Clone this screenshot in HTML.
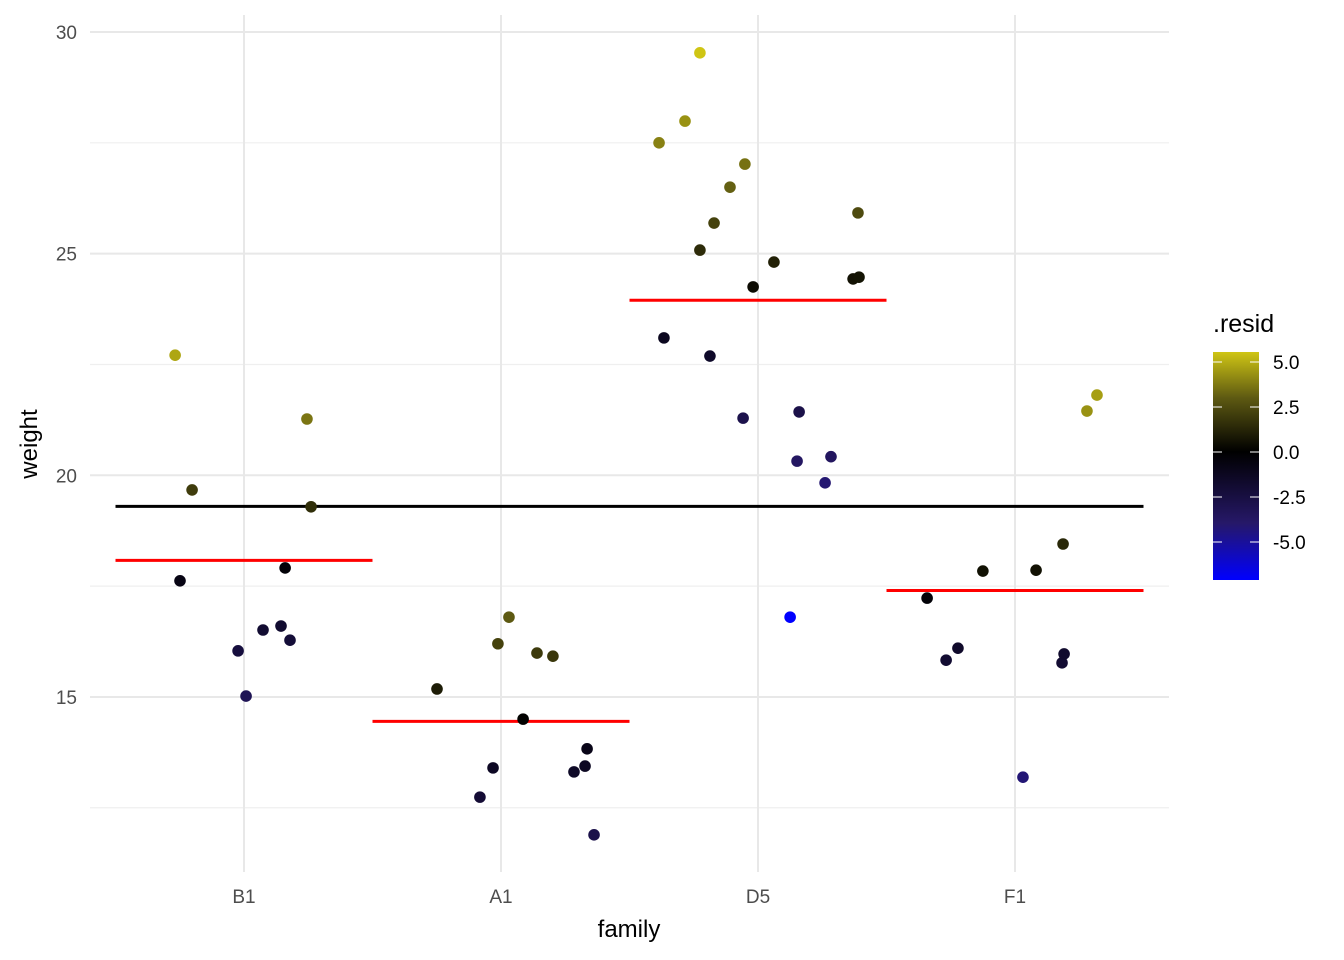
<!DOCTYPE html>
<html><head><meta charset="utf-8"><style>
body{margin:0;background:#fff;}
svg{display:block;font-family:"Liberation Sans",sans-serif;}
</style></head><body>
<svg id="chart" width="1344" height="960">
<defs><linearGradient id="lg" x1="0" y1="1" x2="0" y2="0">
<stop offset="0" stop-color="#0000ff"/><stop offset="0.25" stop-color="#261868"/><stop offset="0.5625" stop-color="#000000"/><stop offset="0.8" stop-color="#5e5a12"/><stop offset="1" stop-color="#cfc514"/>
</linearGradient></defs>
<g id="grid"></g><g id="lines"></g><g id="pts"></g><g id="axes"></g>
<g>
<text x="1213" y="332" font-size="25" fill="#000">.resid</text>
<rect x="1213" y="352" width="46" height="228" fill="url(#lg)"/>
<g id="legticks"></g>
</g>
</svg>
<script>
const categories=["B1","A1","D5","F1"];
const groupMeans=[18.08,14.45,23.95,17.4];
const grandMean=19.3;
const ptGroup=[0,0,0,0,0,0,0,0,0,0,0, 1,1,1,1,1,1,1,1,1,1,1,1, 2,2,2,2,2,2,2,2,2,2,2,2,2,2,2,2,2,2,2,2, 3,3,3,3,3,3,3,3,3,3,3];
const ptJitter=[-0.268,-0.202,-0.249,-0.023,0.008,0.074,0.144,0.179,0.160,0.245,0.261,
-0.249,-0.082,-0.031,-0.012,0.031,0.086,0.140,0.202,0.284,0.327,0.335,0.362,
-0.385,-0.366,-0.284,-0.226,-0.226,-0.187,-0.171,-0.109,-0.058,-0.051,-0.019,0.062,0.125,0.152,0.160,0.261,0.284,0.370,0.389,0.393,
-0.342,-0.268,-0.222,-0.125,0.031,0.082,0.183,0.191,0.187,0.280,0.319];
const ptWeight=[22.71,19.67,17.62,16.04,15.02,16.51,16.60,16.28,17.91,21.27,19.29,
15.18,12.74,13.40,16.20,16.80,14.50,15.99,15.92,13.31,13.44,13.83,11.89,
27.50,23.10,27.99,29.53,25.08,22.69,25.69,26.50,21.29,27.02,24.25,24.81,16.80,20.32,21.43,19.83,20.42,24.43,25.92,24.47,
17.23,15.83,16.10,17.84,13.19,17.86,15.77,15.97,18.45,21.45,21.81];
const yTicks=[15,20,25,30];
const yMinor=[12.5,17.5,22.5,27.5];
const legTicks=[5.0,2.5,0.0,-2.5,-5.0];
const NS="http://www.w3.org/2000/svg";
const X=i=>244+i*257, Y=v=>32+(30-v)*44.33;
const LY=v=>452-v*18;
function mk(p,t,a){const e=document.createElementNS(NS,t);for(const k in a)e.setAttribute(k,a[k]);p.appendChild(e);return e;}
const grid=document.getElementById('grid'),lines=document.getElementById('lines'),pts=document.getElementById('pts'),axes=document.getElementById('axes');
yMinor.forEach(v=>{const l=mk(grid,'line',{x1:90,x2:1169,y1:Y(v),y2:Y(v),stroke:'#efefef','stroke-width':1.2});

});
yTicks.forEach(v=>{const l=mk(grid,'line',{x1:90,x2:1169,y1:Y(v),y2:Y(v),stroke:'#e8e8e8','stroke-width':2});


const t=mk(axes,'text',{x:77,y:Y(v)+7,'text-anchor':'end','font-size':19,fill:'#4d4d4d'});t.textContent=v;

});
categories.forEach((c,i)=>{const l=mk(grid,'line',{x1:X(i),x2:X(i),y1:15,y2:872,stroke:'#e8e8e8','stroke-width':2});


const t=mk(axes,'text',{x:X(i),y:903,'text-anchor':'middle','font-size':19,fill:'#4d4d4d'});t.textContent=c;

});
const gl=mk(lines,'line',{x1:X(-0.5),x2:X(3.5),y1:Y(grandMean),y2:Y(grandMean),stroke:'#000','stroke-width':3});


groupMeans.forEach((m,i)=>{const l=mk(lines,'line',{x1:X(i-0.5),x2:X(i+0.5),y1:Y(m),y2:Y(m),stroke:'#ff0000','stroke-width':3});

});
function lerp(a,b,t){return a.map((v,k)=>Math.round(v+(b[k]-v)*t));}
function col(r){let c;if(r>=0){const t=Math.min(r/5.55,1);c=t<0.43?lerp([0,0,0],[0x5e,0x5a,0x12],t/0.43):lerp([0x5e,0x5a,0x12],[0xcf,0xc5,0x14],(t-0.43)/0.57);}
else{const t=Math.min(-r/7.15,1);c=t<0.55?lerp([0,0,0],[0x26,0x18,0x68],Math.pow(t/0.55,0.8)):lerp([0x26,0x18,0x68],[0,0,255],(t-0.55)/0.45);}
return 'rgb('+c.join(',')+')';}
ptWeight.forEach((w,i)=>{const g=ptGroup[i];const c=mk(pts,'circle',{cx:X(g+ptJitter[i]),cy:Y(w),r:5.8,fill:col(w-groupMeans[g])});

});
const lt=document.getElementById('legticks');
legTicks.forEach(v=>{mk(lt,'line',{x1:1213,x2:1222,y1:LY(v),y2:LY(v),stroke:'#fff','stroke-width':1});
mk(lt,'line',{x1:1250,x2:1259,y1:LY(v),y2:LY(v),stroke:'#fff','stroke-width':1});
const t=mk(lt,'text',{x:1273,y:LY(v)+7,'font-size':19,fill:'#000'});t.textContent=v.toFixed(1);

});
const xt=mk(axes,'text',{x:629,y:937,'text-anchor':'middle','font-size':24,fill:'#000'});xt.textContent='family';


const yt=mk(axes,'text',{x:0,y:0,'text-anchor':'middle','font-size':24,fill:'#000',transform:'translate(37,444) rotate(-90)'});yt.textContent='weight';


</script>
</body></html>
